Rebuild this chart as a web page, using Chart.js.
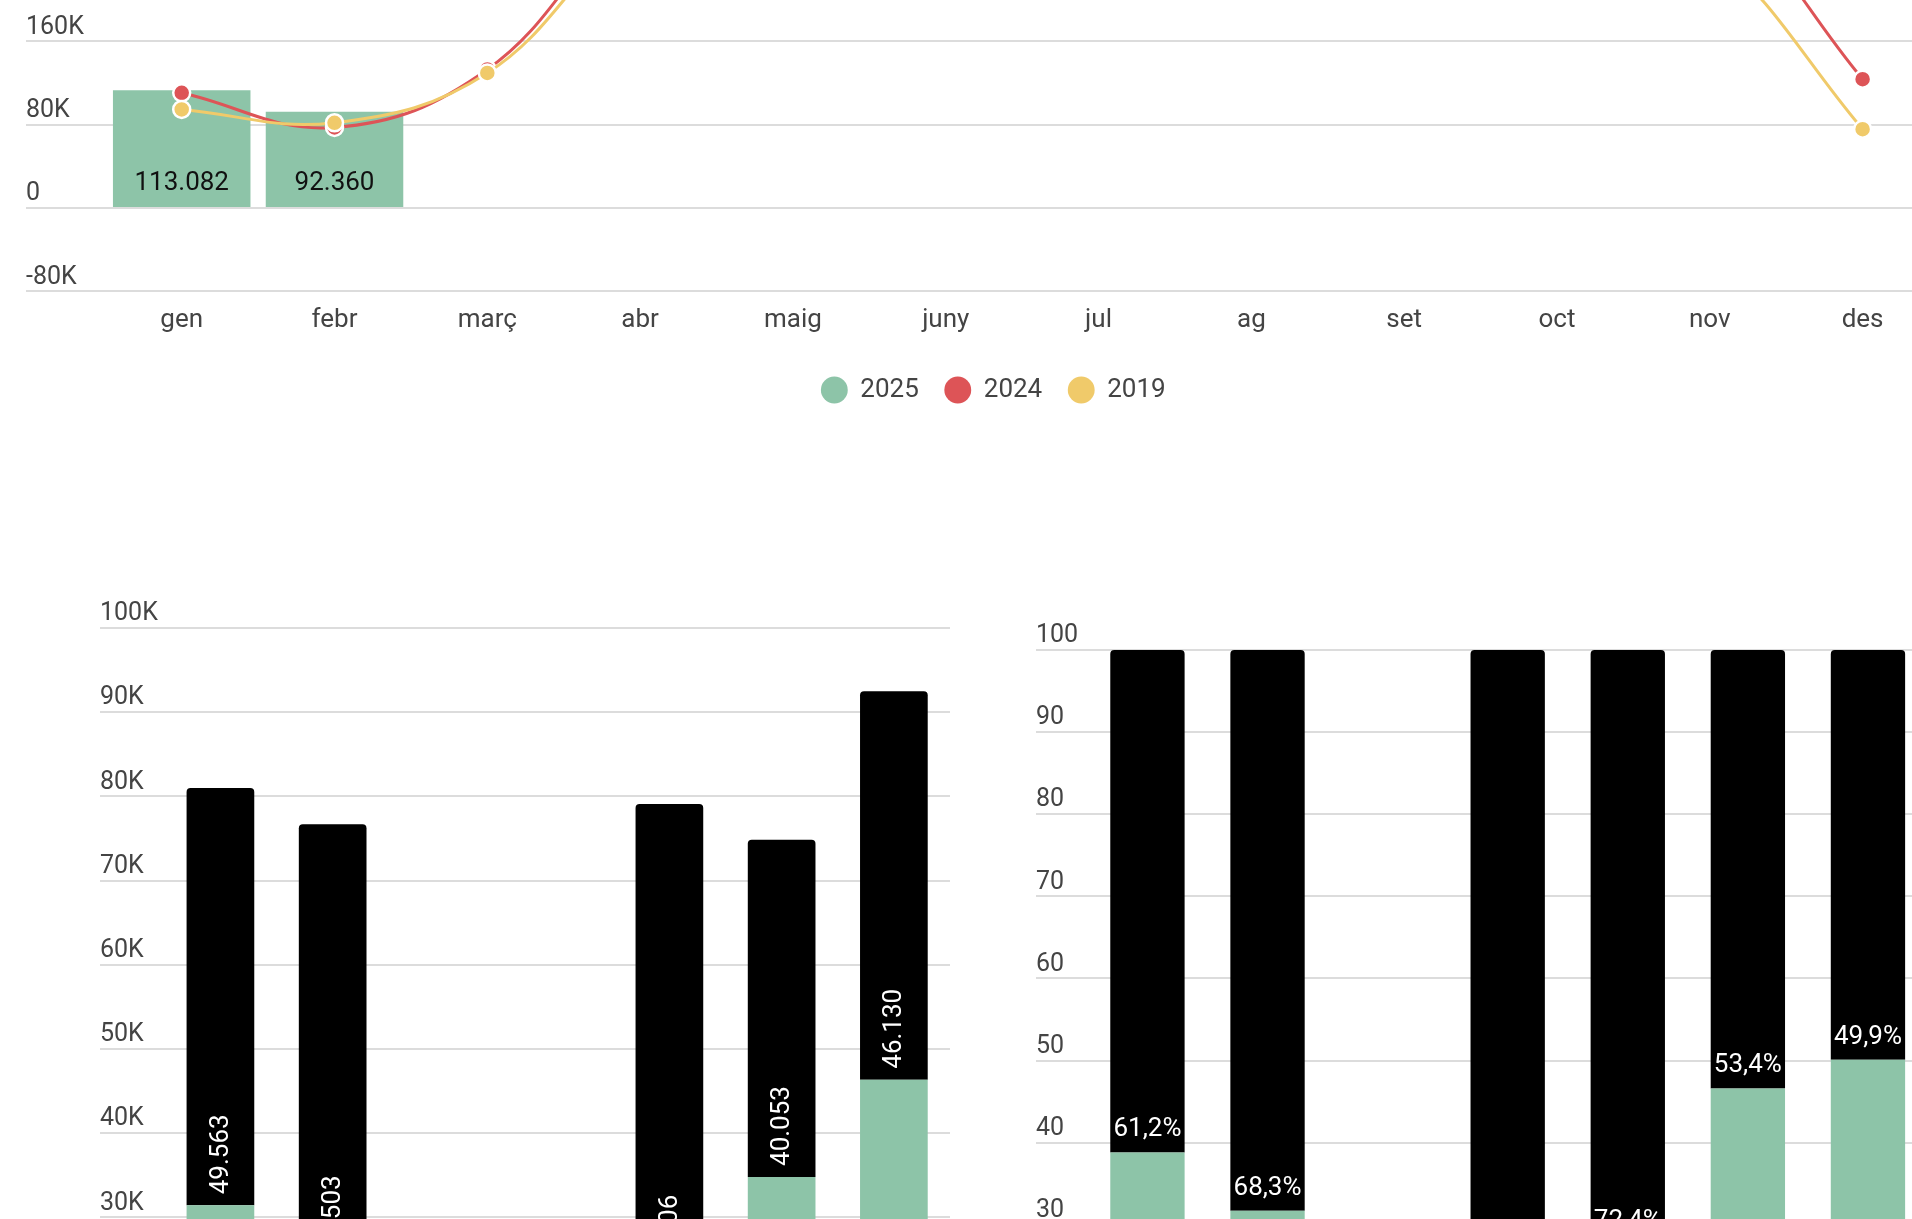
<!DOCTYPE html>
<html lang="ca">
<head>
<meta charset="utf-8">
<title>Visitants</title>
<script src="https://cdn.jsdelivr.net/npm/chart.js@4.4.1/dist/chart.umd.min.js"></script>
<style>
  html, body { margin: 0; padding: 0; background: #fff; }
  body { width: 1912px; height: 1219px; overflow: hidden; position: relative; }
  canvas { position: absolute; }
</style>
</head>
<body>
<canvas id="mensual" width="1935" height="720" style="left:26px; top:-306.6px"></canvas>
<canvas id="totals" width="850" height="887" style="left:100px; top:597.8px"></canvas>
<canvas id="percent" width="892" height="866" style="left:1036px; top:619.7px"></canvas>
<script>
// ------------------- dades -------------------
const mesos = ["gen", "febr", "març", "abr", "maig", "juny", "jul", "ag", "set", "oct", "nov", "des"];
const any2025 = [113082, 92360, null, null, null, null, null, null, null, null, null, null];
const any2024 = [110600, 77300, 133000, 285000, 340000, 390000, 440000, 460000, 410000, 360000, 300000, 123600];
const any2019 = [94600, 81800, 129600, 270000, 320000, 370000, 420000, 440000, 390000, 330000, 250000, 75600];

const categories = ["2019", "2020", "2021", "2022", "2023", "2024", "2025"];
const verdTotals = [31440, 24200, null, null, 21900, 34800, 46350];
const negreTotals = [49563, 52503, null, null, 57206, 40053, 46130];
const verdPercent = [38.8, 31.7, null, 26.4, 27.6, 46.6, 50.1];
const negrePercent = [61.2, 68.3, null, 73.6, 72.4, 53.4, 49.9];

const VERD = "#8dc4a8";
const VERMELL = "#dd5457";
const GROC = "#f0ca6a";
const GRIS = "#444444";
const GRAELLA = "#dcdcdc";

Chart.defaults.font.family = "Roboto";
Chart.defaults.animation = false;

// format català: 113.082 / 61,2%
function milers(n) {
  return String(Math.round(n)).replace(/\B(?=(\d{3})+(?!\d))/g, ".");
}
function percent(n) {
  return n.toFixed(1).replace(".", ",") + "%";
}

// etiquetes dins de les barres
const etiquetes = {
  id: "etiquetes",
  afterDatasetsDraw(chart, args, opts) {
    if (!opts.mode) return;
    const ctx = chart.ctx;
    const meta = chart.getDatasetMeta(opts.dataset);
    const valors = chart.data.datasets[opts.dataset].data;
    ctx.save();
    ctx.font = "26px Roboto";
    ctx.fillStyle = opts.color;
    meta.data.forEach((bar, i) => {
      if (valors[i] === null) return;
      const text = opts.format(valors[i]);
      if (opts.mode === "rotat") {
        ctx.save();
        ctx.translate(bar.x, bar.base - 11);
        ctx.rotate(-Math.PI / 2);
        ctx.textAlign = "left";
        ctx.textBaseline = "middle";
        ctx.fillText(text, 0, 1);
        ctx.restore();
      } else {
        ctx.textAlign = "center";
        ctx.textBaseline = "alphabetic";
        ctx.fillText(text, bar.x, bar.base - opts.gap);
      }
    });
    ctx.restore();
  },
};

function eixY(amplada, min, max, pas, format) {
  return {
    min: min,
    max: max,
    border: { display: false },
    grid: { color: GRAELLA, lineWidth: 2, drawTicks: true, tickLength: amplada, tickColor: GRAELLA },
    ticks: {
      stepSize: pas,
      color: GRIS,
      font: { size: 25 },
      crossAlign: "far",
      padding: 0,
      labelOffset: -14,
      callback: format,
    },
    afterFit: (scale) => { scale.width = amplada; },
  };
}

// ------------------- gràfic mensual -------------------
new Chart(document.getElementById("mensual"), {
  data: {
    labels: mesos,
    datasets: [
      {
        type: "bar",
        label: "2025",
        data: any2025,
        backgroundColor: VERD,
        barPercentage: 0.9,
        categoryPercentage: 1,
        order: 3,
      },
      {
        type: "line",
        label: "2024",
        data: any2024,
        borderColor: VERMELL,
        backgroundColor: VERMELL,
        borderWidth: 3,
        tension: 0.4,
        pointRadius: 8.5,
        pointBackgroundColor: VERMELL,
        pointBorderColor: "#fff",
        pointBorderWidth: 2.5,
        order: 2,
      },
      {
        type: "line",
        label: "2019",
        data: any2019,
        borderColor: GROC,
        backgroundColor: GROC,
        borderWidth: 3,
        tension: 0.4,
        pointRadius: 8.5,
        pointBackgroundColor: GROC,
        pointBorderColor: "#fff",
        pointBorderWidth: 2.5,
        order: 1,
      },
    ],
  },
  options: {
    responsive: false,
    layout: { padding: 0 },
    scales: {
      x: {
        offset: true,
        border: { display: false },
        grid: { display: false },
        ticks: { color: GRIS, font: { size: 26 }, padding: 5.7, maxRotation: 0, autoSkip: false },
        afterFit: (scale) => { scale.height = 59.7; },
      },
      y: eixY(79.3, -80000, 480000, 80000, (v) => (v === 0 ? "0" : v / 1000 + "K")),
      // només per deixar marge a la dreta
      dreta: {
        position: "right",
        display: true,
        border: { display: false },
        grid: { display: false },
        ticks: { display: false },
        afterFit: (scale) => { scale.width = 22; },
      },
    },
    plugins: {
      tooltip: { enabled: false },
      legend: {
        position: "bottom",
        labels: {
          usePointStyle: true,
          pointStyle: "circle",
          boxWidth: 26,
          boxHeight: 19,
          padding: 26,
          color: GRIS,
          font: { size: 26 },
          sort: (a, b) => a.datasetIndex - b.datasetIndex,
          generateLabels: (chart) =>
            Chart.defaults.plugins.legend.labels.generateLabels(chart).map((l) => ({ ...l, lineWidth: 0 })),
        },
      },
      etiquetes: { mode: "base", dataset: 0, color: "#111", gap: 17, format: milers },
    },
  },
  plugins: [etiquetes],
});

// ------------------- totals (milers) -------------------
new Chart(document.getElementById("totals"), {
  type: "bar",
  data: {
    labels: categories,
    datasets: [
      { label: "verd", data: verdTotals, backgroundColor: VERD, barPercentage: 0.603, categoryPercentage: 1 },
      {
        label: "negre",
        data: negreTotals,
        backgroundColor: "#000",
        barPercentage: 0.603,
        categoryPercentage: 1,
        borderSkipped: false,
        borderRadius: { topLeft: 4, topRight: 4, bottomLeft: 0, bottomRight: 0 },
      },
    ],
  },
  options: {
    responsive: false,
    layout: { padding: { top: 30 } },
    scales: {
      x: { stacked: true, offset: true, border: { display: false }, grid: { display: false }, ticks: { display: false } },
      y: { stacked: true, ...eixY(64.3, 0, 100000, 10000, (v) => (v === 0 ? "0" : v / 1000 + "K")) },
    },
    plugins: {
      tooltip: { enabled: false },
      legend: { display: false },
      etiquetes: { mode: "rotat", dataset: 1, color: "#fff", format: milers },
    },
  },
  plugins: [etiquetes],
});

// ------------------- percentatge -------------------
new Chart(document.getElementById("percent"), {
  type: "bar",
  data: {
    labels: categories,
    datasets: [
      { label: "verd", data: verdPercent, backgroundColor: VERD, barPercentage: 0.619, categoryPercentage: 1 },
      {
        label: "negre",
        data: negrePercent,
        backgroundColor: "#000",
        barPercentage: 0.619,
        categoryPercentage: 1,
        borderSkipped: false,
        borderRadius: { topLeft: 4, topRight: 4, bottomLeft: 0, bottomRight: 0 },
      },
    ],
  },
  options: {
    responsive: false,
    layout: { padding: { top: 30 } },
    scales: {
      x: { stacked: true, offset: true, border: { display: false }, grid: { display: false }, ticks: { display: false } },
      y: { stacked: true, ...eixY(51.4, 0, 100, 10, (v) => String(v)) },
    },
    plugins: {
      tooltip: { enabled: false },
      legend: { display: false },
      etiquetes: { mode: "base", dataset: 1, color: "#fff", gap: 16, format: percent },
    },
  },
  plugins: [etiquetes],
});
</script>
</body>
</html>
